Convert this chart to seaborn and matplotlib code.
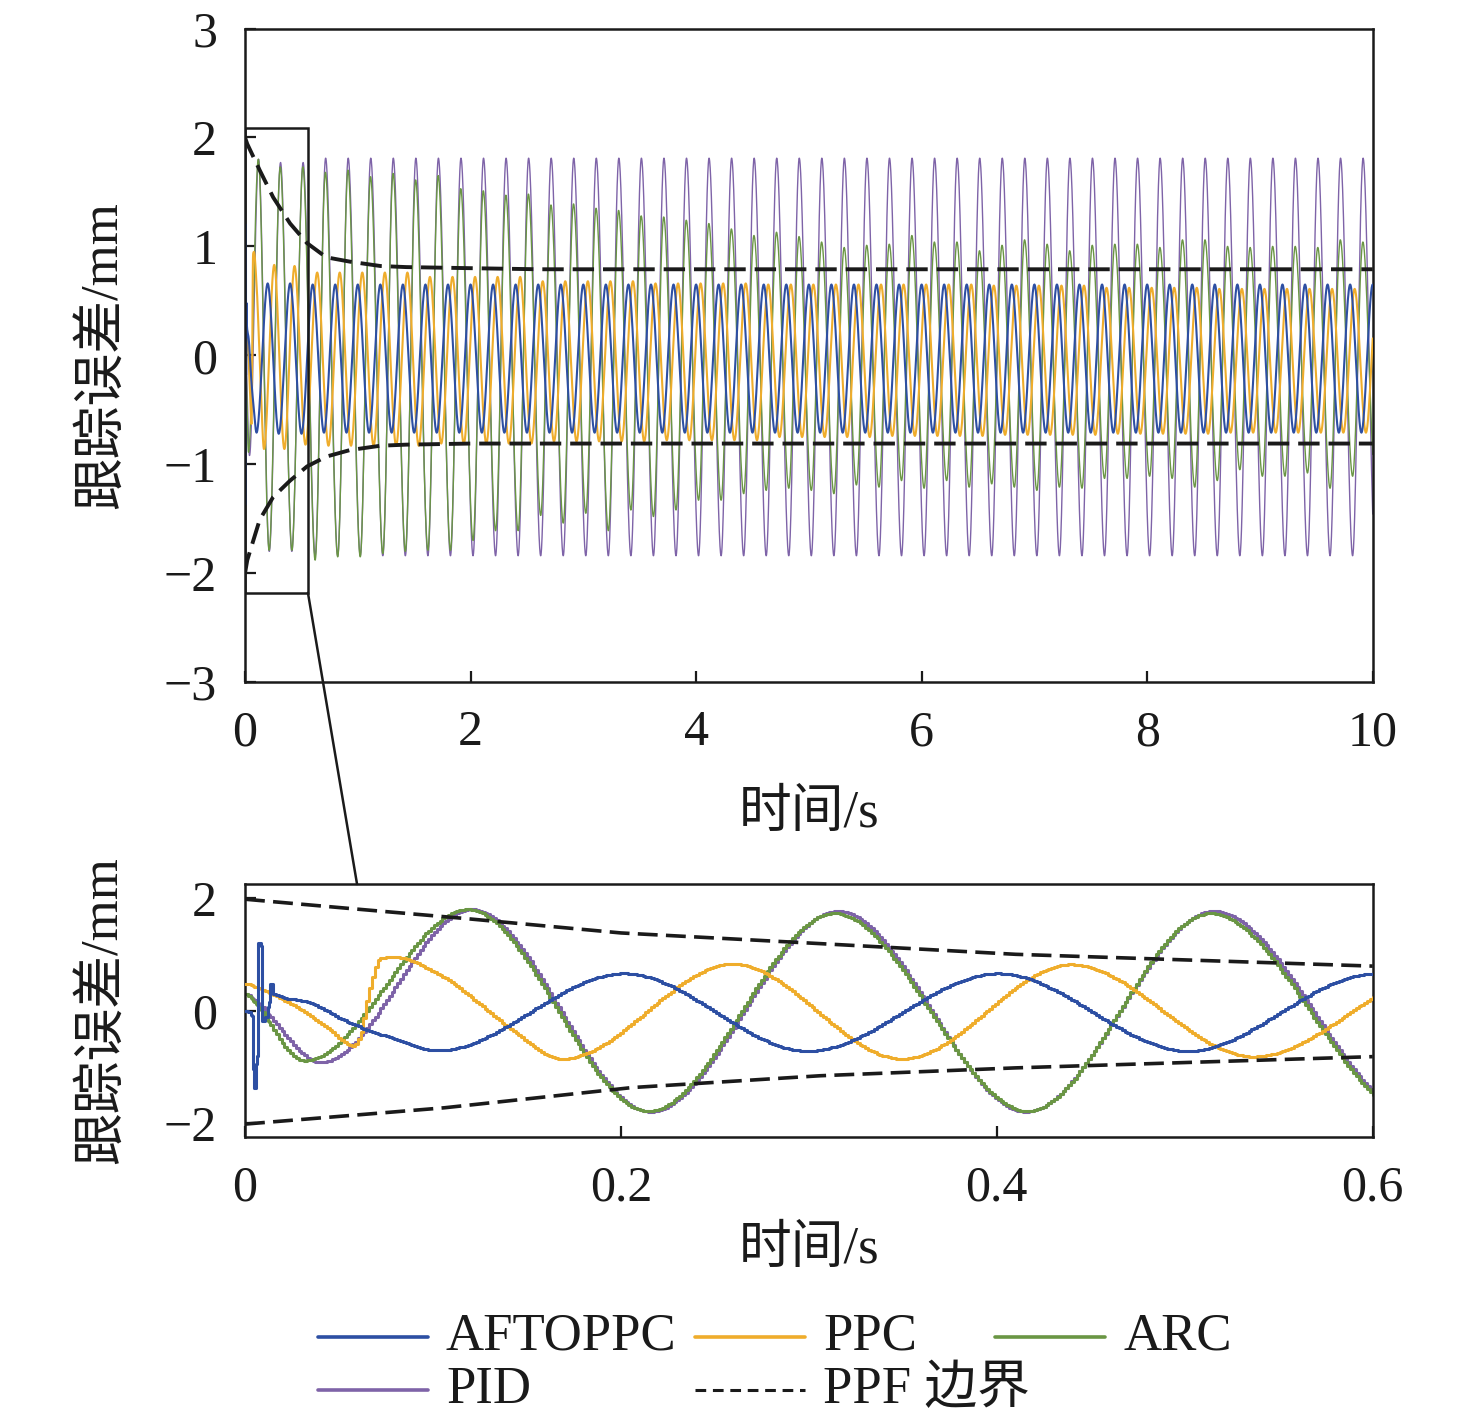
import numpy as np
import matplotlib
matplotlib.use('Agg')
import matplotlib.pyplot as plt
import seaborn as sns
from matplotlib.patches import Rectangle, ConnectionPatch
from matplotlib.lines import Line2D

sns.set_theme(style="white")
plt.rcParams['font.family'] = ['Liberation Serif', 'Noto Sans CJK SC']
plt.rcParams['axes.unicode_minus'] = True

# ---------------- data ----------------
PERIOD = 0.2      # s, one oscillation
DT = 0.0015       # sample step of the recorded signals
T_END = 10.0

# turning points in the first 0.6 s (from the zoomed panel)
AFT_T = [0.0, 0.0035, 0.005, 0.0062, 0.0071, 0.0083, 0.009, 0.0125, 0.0133, 0.0151,
         0.033, 0.056, 0.077, 0.102, 0.201, 0.299, 0.400, 0.501]
AFT_V = [0.0, -0.1, -1.37, -0.8, 1.2, 1.15, -0.18, 0.15, 0.48, 0.3,
         0.15, -0.23, -0.48, -0.71, 0.66, -0.72, 0.66, -0.72]
PPC_T = [0.0, 0.007, 0.033, 0.045, 0.057, 0.0605, 0.066, 0.0716, 0.0785, 0.105,
         0.122, 0.14, 0.168, 0.259, 0.349, 0.439, 0.536]
PPC_V = [0.48, 0.4, -0.06, -0.35, -0.63, -0.48, 0.4, 0.93, 0.95, 0.6,
         0.18, -0.3, -0.86, 0.83, -0.86, 0.82, -0.82]
ARC_T = [0.0, 0.031, 0.118, 0.214, 0.313, 0.416, 0.513]
ARC_V = [0.3, -0.89, 1.8, -1.79, 1.73, -1.79, 1.73]
PID_T = [0.0, 0.040, 0.12, 0.215, 0.315, 0.415, 0.515]
PID_V = [0.3, -0.92, 1.8, -1.8, 1.77, -1.8, 1.77]

# later peaks / troughs (one value per cycle, from the 0-10 s panel)
AFT_PEAK0, AFT_TROUGH0 = 0.600, 0.700
AFT_PEAKS = [0.65] * 48
AFT_TROUGHS = [-0.71] * 47

PPC_PEAK0, PPC_TROUGH0 = 0.640, 0.740
PPC_PEAK_LEVEL = [0.76, 0.72, 0.68, 0.66, 0.65, 0.65, 0.64, 0.62, 0.61, 0.61]      # per second
PPC_TROUGH_LEVEL = [-0.83, -0.81, -0.79, -0.78, -0.75, -0.74, -0.73, -0.72, -0.71, -0.71]

ARC_PEAK0, ARC_TROUGH0 = 0.713, 0.622
ARC_PEAKS = [1.68, 1.70, 1.64, 1.67, 1.61, 1.65, 1.53, 1.51, 1.47, 1.48, 1.38, 1.39,
             1.35, 1.33, 1.28, 1.27, 1.24,
             1.21, 1.16, 1.10, 1.13, 1.09, 1.04, 0.99, 1.01, 1.02, 1.10, 1.04, 1.04,
             0.96, 1.01, 1.06, 1.02, 0.96, 1.01,
             1.02, 1.02, 0.99, 1.06, 1.06, 1.00, 0.99, 1.00, 1.00, 0.99, 1.06, 1.04]
ARC_TROUGHS = [-1.88, -1.85, -1.85, -1.82, -1.80, -1.79, -1.79, -1.70, -1.61, -1.61,
               -1.47, -1.54, -1.45, -1.61, -1.42, -1.48, -1.42,
               -1.33, -1.33, -1.27, -1.24, -1.22, -1.24, -1.27, -1.19, -1.21, -1.15,
               -1.22, -1.15, -1.21, -1.18, -1.21, -1.24, -1.21, -1.22,
               -1.13, -1.13, -1.11, -1.13, -1.21, -1.15, -1.05, -1.11, -1.11, -1.08,
               -1.22, -1.11, -1.13]

PID_PEAK0, PID_TROUGH0 = 0.715, 0.622
PID_PEAKS = [1.81] * 47
PID_TROUGHS = [-1.84] * 48

# prescribed performance boundary
PPF_T_FULL = [0, 0.02, 0.13, 0.25, 0.4, 0.55, 0.72, 0.93, 1.2, 1.43, 2.0, 2.6, 4, 6, 8, 10]
PPF_UP_FULL = [2.0, 1.94, 1.70, 1.45, 1.21, 1.03, 0.90, 0.86, 0.82, 0.81, 0.80, 0.79, 0.79, 0.79, 0.79, 0.79]
PPF_LO_T_FULL = [0, 0.02, 0.13, 0.25, 0.4, 0.55, 0.72, 0.93, 1.2, 1.43, 2.0, 2.6, 4, 6, 8, 10]
PPF_LO_FULL = [-2.0, -1.88, -1.51, -1.30, -1.15, -1.02, -0.93, -0.87, -0.83, -0.82, -0.81, -0.81, -0.81, -0.81, -0.81, -0.81]

PPF_T_ZOOM = [0, 0.054, 0.116, 0.2, 0.306, 0.41, 0.6]
PPF_UP_ZOOM = [1.98, 1.82, 1.64, 1.38, 1.19, 1.0, 0.79]
PPF_LO_T_ZOOM = [0, 0.106, 0.206, 0.306, 0.41, 0.6]
PPF_LO_ZOOM = [-2.02, -1.73, -1.37, -1.16, -1.02, -0.82]

COLORS = {'AFTOPPC': '#2D4FA3', 'PPC': '#EFAD2C', 'ARC': '#6A9644', 'PID': '#7E63A8'}


def pchip(xk, yk, x):
    # monotone cubic through the turning points
    xk = np.asarray(xk, float)
    yk = np.asarray(yk, float)
    h = np.diff(xk)
    d = np.diff(yk) / h
    m = np.zeros_like(yk)
    for i in range(1, len(xk) - 1):
        if d[i - 1] * d[i] > 0:
            w1 = 2 * h[i] + h[i - 1]
            w2 = h[i] + 2 * h[i - 1]
            m[i] = (w1 + w2) / (w1 / d[i - 1] + w2 / d[i])
    m[0] = d[0] * 0.5
    m[-1] = 0.0
    i = np.clip(np.searchsorted(xk, x, side='right') - 1, 0, len(xk) - 2)
    s = (x - xk[i]) / h[i]
    h00 = 2 * s**3 - 3 * s**2 + 1
    h10 = s**3 - 2 * s**2 + s
    h01 = -2 * s**3 + 3 * s**2
    h11 = s**3 - s**2
    return h00 * yk[i] + h10 * h[i] * m[i] + h01 * yk[i + 1] + h11 * h[i] * m[i + 1]


def build(early_t, early_v, p0, peaks, q0, troughs, t):
    pt = p0 + PERIOD * np.arange(len(peaks))
    qt = q0 + PERIOD * np.arange(len(troughs))
    kt = np.concatenate([early_t, pt, qt])
    kv = np.concatenate([early_v, peaks, troughs])
    order = np.argsort(kt)
    return pchip(kt[order], kv[order], t)


# sample grid, plus the short start-up spike instants so they are not lost
t = np.union1d(np.arange(0, T_END + DT / 2, DT), [x for x in AFT_T if x < 0.02])
series = {
    'AFTOPPC': build(AFT_T, AFT_V, AFT_PEAK0, AFT_PEAKS, AFT_TROUGH0, AFT_TROUGHS, t),
    'PPC': build(PPC_T, PPC_V, PPC_PEAK0, np.repeat(PPC_PEAK_LEVEL, 5)[:48],
                 PPC_TROUGH0, np.repeat(PPC_TROUGH_LEVEL, 5)[:47], t),
    'ARC': build(ARC_T, ARC_V, ARC_PEAK0, ARC_PEAKS, ARC_TROUGH0, ARC_TROUGHS, t),
    'PID': build(PID_T, PID_V, PID_PEAK0, PID_PEAKS, PID_TROUGH0, PID_TROUGHS, t),
}
zorders = {'PID': 1, 'ARC': 2, 'PPC': 3, 'AFTOPPC': 4}

# ---------------- figure ----------------
fig = plt.figure(figsize=(14.76, 14.27), dpi=100)
ax1 = fig.add_axes([0.166, 0.522, 0.764, 0.458])
ax2 = fig.add_axes([0.166, 0.2032, 0.764, 0.1773])

FS = 36
LFS = 38
dash = (5.5, 2.3)

# full 0-10 s panel
for name in ['PID', 'ARC', 'PPC', 'AFTOPPC']:
    lw = 1.0 if name in ('PID', 'ARC') else 1.5
    sns.lineplot(x=t, y=series[name], ax=ax1, color=COLORS[name], lw=lw,
                 estimator=None, sort=False, zorder=zorders[name], legend=False)
ax1.plot(PPF_T_FULL, PPF_UP_FULL, color='#1a1a1a', lw=2.8, dashes=dash, zorder=6)
ax1.plot(PPF_LO_T_FULL, PPF_LO_FULL, color='#1a1a1a', lw=2.8, dashes=dash, zorder=6)
ax1.set_xlim(0, 10)
ax1.set_ylim(-3, 3)
ax1.set_xticks([0, 2, 4, 6, 8, 10])
ax1.set_yticks([-3, -2, -1, 0, 1, 2, 3])
ax1.add_patch(Rectangle((0, -2.18), 0.558, 4.27, fill=False, ec='#1a1a1a', lw=1.8, zorder=7))

# zoomed 0-0.6 s panel
mask = t <= 0.6 + 1e-9
for name in ['PID', 'ARC', 'PPC', 'AFTOPPC']:
    sns.lineplot(x=t[mask], y=series[name][mask], ax=ax2, color=COLORS[name], lw=2.2,
                 estimator=None, sort=False, zorder=zorders[name], legend=False,
                 drawstyle='steps-post')
ax2.plot(PPF_T_ZOOM, PPF_UP_ZOOM, color='#1a1a1a', lw=2.6, dashes=dash, zorder=6)
ax2.plot(PPF_LO_T_ZOOM, PPF_LO_ZOOM, color='#1a1a1a', lw=2.6, dashes=dash, zorder=6)
ax2.set_xlim(0, 0.6)
ax2.set_ylim(-2.25, 2.25)
ax2.set_xticks([0, 0.2, 0.4, 0.6])
ax2.set_xticklabels(['0', '0.2', '0.4', '0.6'])
ax2.set_yticks([-2, 0, 2])

for ax in (ax1, ax2):
    for sp in ax.spines.values():
        sp.set_visible(True)
        sp.set_color('#1a1a1a')
        sp.set_linewidth(1.8)
    ax.tick_params(axis='both', direction='in', length=8, width=1.6, color='#1a1a1a',
                   labelsize=FS, labelcolor='#1a1a1a', bottom=True, left=True,
                   top=False, right=False)
    ax.tick_params(axis='x', pad=20)
    ax.tick_params(axis='y', pad=20)
    ax.set_ylabel('跟踪误差/mm', fontsize=LFS, color='#1a1a1a')
    ax.set_xlabel('时间/s', fontsize=LFS, color='#1a1a1a')
    ax.grid(False)

ax1.xaxis.set_label_coords(0.5, -0.165)
ax2.xaxis.set_label_coords(0.5, -0.35)
ax1.yaxis.set_label_coords(-0.104, 0.5)
ax2.yaxis.set_label_coords(-0.104, 0.5)

# connector from the box to the zoomed panel
con = ConnectionPatch(xyA=(0.558, -2.18), coordsA=ax1.transData,
                      xyB=(0.0596, 2.25), coordsB=ax2.transData,
                      color='#1a1a1a', lw=1.8, zorder=10)
fig.add_artist(con)

# legend (two rows, three columns)
W, H = 1476, 1427
legend_rows = [[('AFTOPPC', 318), ('PPC', 695), ('ARC', 995)],
               [('PID', 318), ('PPF 边界', 695)]]
for row, ypx in zip(legend_rows, [1337, 1390]):
    for label, xpx in row:
        y = 1 - ypx / H
        if label.startswith('PPF'):
            ln = Line2D([xpx / W, (xpx + 110) / W], [y, y], transform=fig.transFigure,
                        color='#1a1a1a', lw=2.2, dashes=(3.5, 2.2))
        else:
            ln = Line2D([xpx / W, (xpx + 110) / W], [y, y], transform=fig.transFigure,
                        color=COLORS[label], lw=2.6)
        fig.add_artist(ln)
        fig.text((xpx + 128) / W, y, label, fontsize=LFS, va='center', ha='left',
                 color='#1a1a1a')

fig.savefig('out.png', dpi=100)
